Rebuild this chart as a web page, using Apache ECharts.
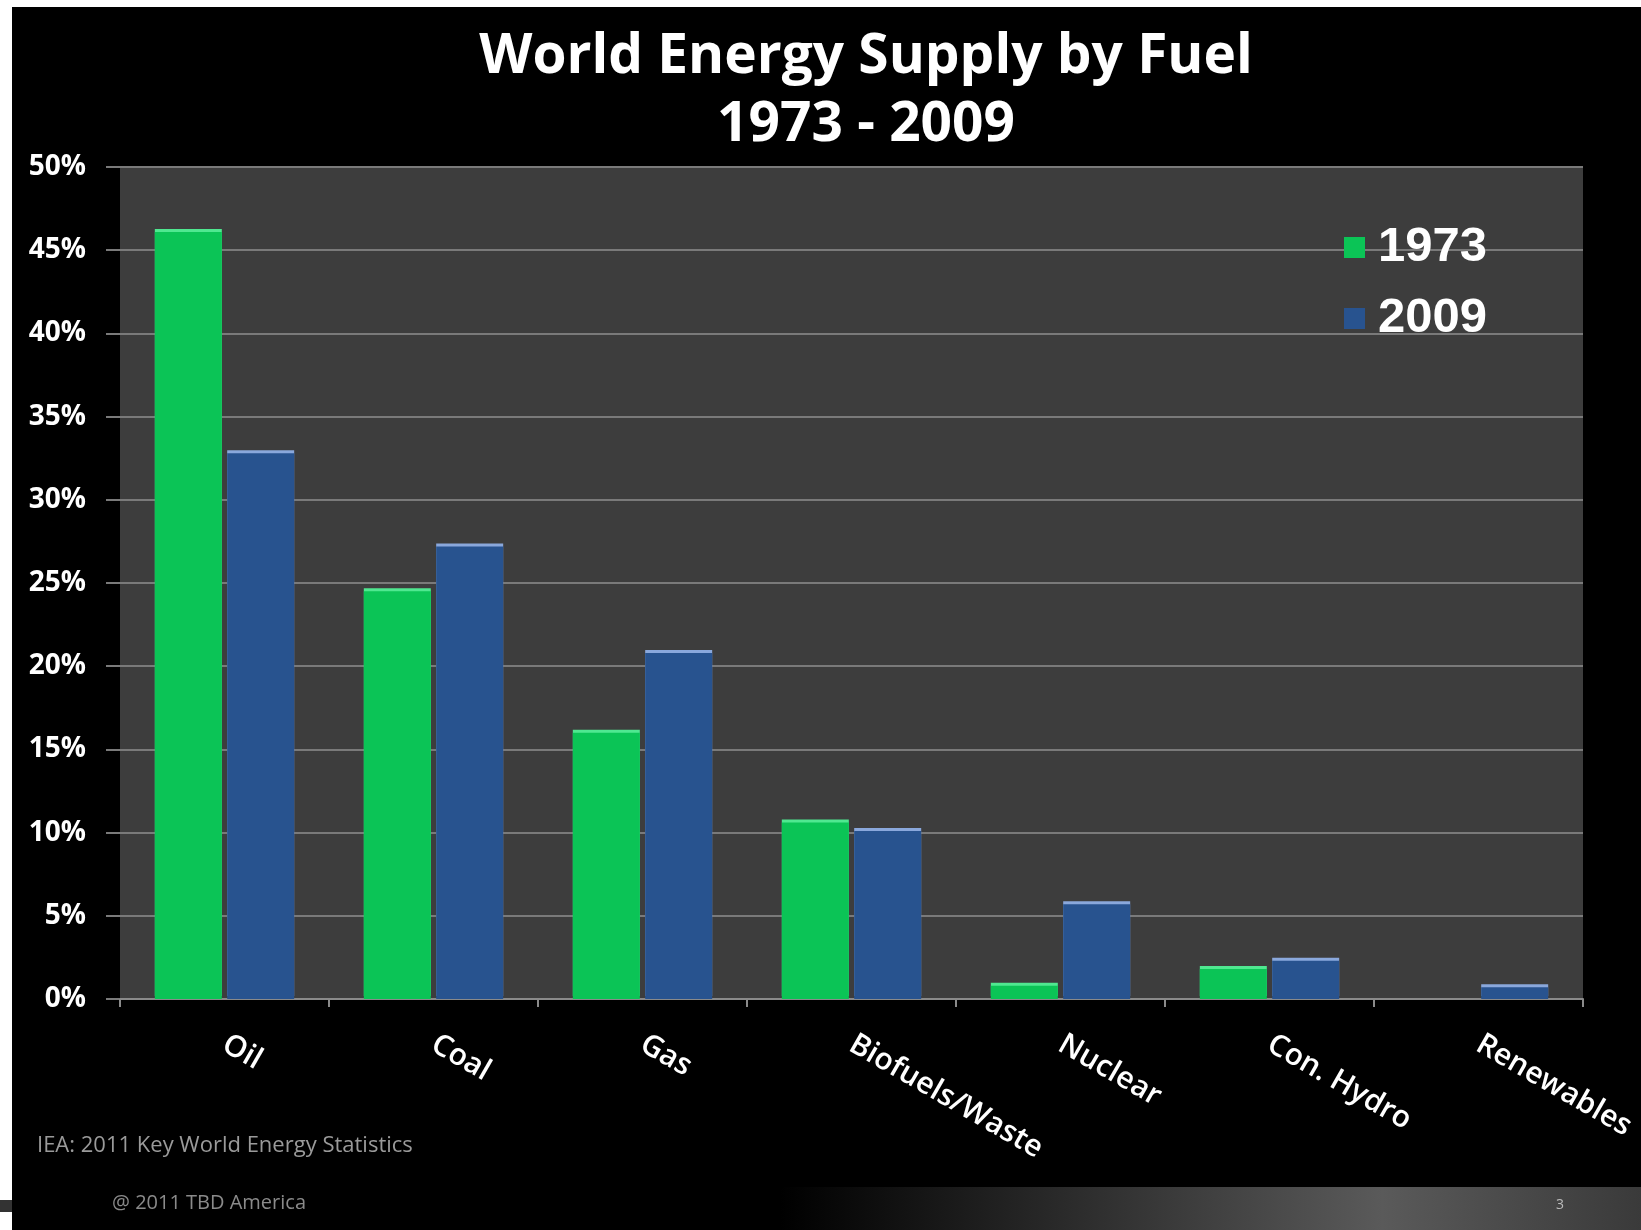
<!DOCTYPE html>
<html>
<head>
<meta charset="utf-8">
<script src="https://cdn.jsdelivr.net/npm/echarts@6/dist/echarts.min.js"></script>
<style>
html,body{margin:0;padding:0;background:#fff;}
#chart{width:1641px;height:1230px;}
</style>
</head>
<body>
<div id="chart"></div>
<script>
const categories = ['Oil', 'Coal', 'Gas', 'Biofuels/Waste', 'Nuclear', 'Con. Hydro', 'Renewables'];
const seriesNames = ['1973', '2009'];
const values1973 = [46.1, 24.5, 16.0, 10.6, 0.8, 1.8, null];
const values2009 = [32.8, 27.2, 20.8, 10.1, 5.7, 2.3, 0.7];
const yTicks = [0, 5, 10, 15, 20, 25, 30, 35, 40, 45, 50];
const titleText = 'World Energy Supply by Fuel';
const subTitleText = '1973 - 2009';
const sourceText = 'IEA: 2011 Key World Energy Statistics';
const copyrightText = '@ 2011 TBD America';

const chart = echarts.init(document.getElementById('chart'));
const option = {
  backgroundColor: '#000',
  animation: false,
  title: {
    text: titleText + '\n' + subTitleText,
    left: 861,
    textAlign: 'center',
    top: 18,
    textStyle: {
      color: '#fff',
      fontFamily: "'Open Sans', sans-serif",
      fontWeight: 'bold',
      fontSize: 55,
      lineHeight: 68
    }
  },
  legend: {
    orient: 'vertical',
    left: 1339,
    top: 218,
    itemWidth: 21,
    itemHeight: 21,
    itemGap: 22,
    icon: 'rect',
    data: seriesNames,
    textStyle: {
      color: '#fff',
      fontFamily: "'Liberation Sans', Arial, sans-serif",
      fontWeight: 'bold',
      fontSize: 49,
      padding: [0, 0, 0, 8]
    }
  },
  grid: {
    left: 120,
    right: 58,
    top: 167,
    bottom: 231,
    show: true,
    backgroundColor: '#3d3d3d',
    borderWidth: 0
  },
  xAxis: {
    type: 'category',
    data: categories,
    axisLine: { lineStyle: { color: '#8a8a8a', width: 2 } },
    axisTick: { show: true, alignWithLabel: false, length: 8, lineStyle: { color: '#8a8a8a', width: 2 } },
    axisLabel: {
      rotate: -30,
      interval: 0,
      margin: 43,
      color: '#fff',
      fontFamily: "'Open Sans', sans-serif",
      fontWeight: 600,
      fontSize: 30
    }
  },
  yAxis: {
    type: 'value',
    min: 0,
    max: 50,
    interval: 5,
    axisLine: { show: false },
    axisTick: { show: true, length: 14, lineStyle: { color: '#7a7a7a', width: 2 } },
    splitLine: { show: true, lineStyle: { color: '#7a7a7a', width: 2 } },
    axisLabel: {
      margin: 34,
      color: '#fff',
      fontFamily: "'Open Sans', sans-serif",
      fontWeight: 'bold',
      fontSize: 28,
      formatter: function (v) { return yTicks.indexOf(v) >= 0 ? v + '%' : ''; }
    }
  },
  series: [
    {
      name: seriesNames[0],
      type: 'bar',
      data: values1973,
      barWidth: 67,
      barGap: '8%',
      itemStyle: {
        color: '#0bc456',
        borderWidth: 0,
        shadowColor: '#4fe890',
        shadowOffsetY: -3,
        shadowBlur: 0
      }
    },
    {
      name: seriesNames[1],
      type: 'bar',
      data: values2009,
      barWidth: 67,
      barGap: '8%',
      itemStyle: {
        color: '#28538f',
        borderWidth: 0,
        shadowColor: '#8aa8dc',
        shadowOffsetY: -3,
        shadowBlur: 0
      }
    }
  ],
  graphic: [
    { type: 'rect', left: 0, top: 0, shape: { width: 1641, height: 7 }, style: { fill: '#fff' }, z: 100 },
    { type: 'rect', left: 0, top: 0, shape: { width: 12, height: 1230 }, style: { fill: '#fff' }, z: 100 },
    { type: 'rect', left: 0, top: 1200, shape: { width: 12, height: 12 }, style: { fill: '#333' }, z: 101 },
    {
      type: 'rect', left: 780, top: 1187, shape: { width: 861, height: 43 }, z: 1,
      style: {
        fill: new echarts.graphic.LinearGradient(0, 0, 1, 0, [
          { offset: 0, color: '#000' },
          { offset: 0.7, color: '#5a5a5a' },
          { offset: 1, color: '#3a3a3a' }
        ])
      }
    },
    { type: 'text', left: 37, top: 1135, z: 10, style: { text: sourceText, fill: '#9a9a9a', font: '22px "Open Sans", sans-serif' } },
    { type: 'text', left: 112, top: 1193, z: 10, style: { text: copyrightText, fill: '#8a8a8a', font: '20px "Open Sans", sans-serif' } },
    { type: 'text', left: 1556, top: 1198, z: 10, style: { text: '3', fill: '#bbb', font: '14px "Open Sans", sans-serif' } }
  ]
};
chart.setOption(option);
</script>
</body>
</html>
